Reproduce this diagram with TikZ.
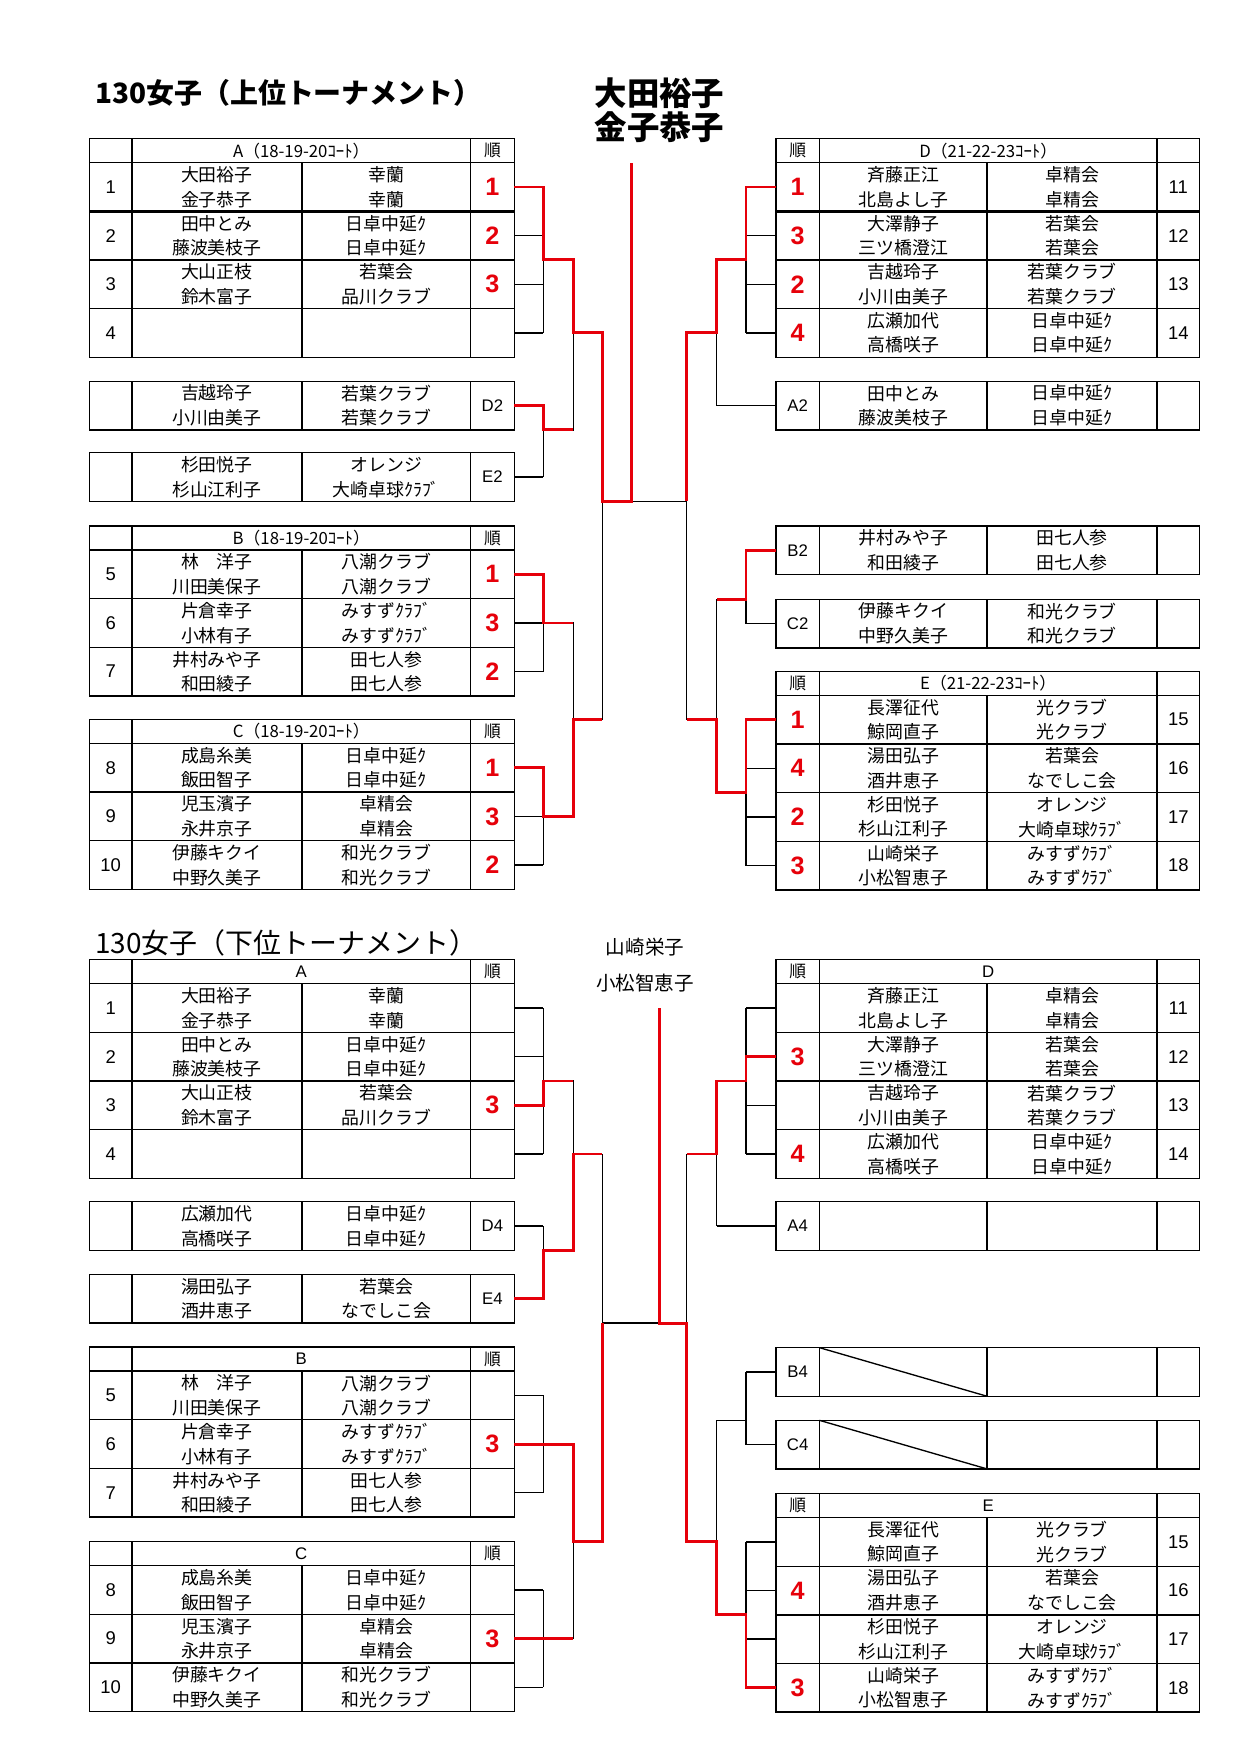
\documentclass[tikz,border=0pt]{standalone}
\usepackage{fontspec}
\newfontfamily\jp{Noto Sans CJK JP}
\newfontfamily\ar{Liberation Sans}
\definecolor{rk}{RGB}{230,0,10}
\tikzset{
  tbl/.style={line width=1.2pt, draw=black},
  br/.style={line width=1.2pt, draw=black},
  rd/.style={line width=2.6pt, draw=rk, line join=miter},
  txt/.style={font=\jp\fontsize{16}{18}\selectfont, inner sep=0pt},
  num/.style={font=\ar\fontsize{16.5}{18}\selectfont, inner sep=0pt},
  hdr/.style={font=\jp\fontsize{15}{16}\selectfont, inner sep=0pt},
}
\newcommand{\RK}[1]{\textcolor{rk}{\ar\bfseries\fontsize{22.5}{24}\selectfont #1}}
\newcommand{\LB}[1]{{\ar\fontsize{15}{16}\selectfont #1}}
\newcommand{\LRow}[8]{%
  \draw[tbl] (80,#2) rectangle (460,#2+43.5);
  \draw[tbl] (118,#2) -- (118,#2+43.5) (270,#2) -- (270,#2+43.5) (421,#2) -- (421,#2+43.5);
  \node[num] (#1-no) at (99,#2+21.75) {#3};
  \node[txt] (#1-n1) at (194,#2+10.75) {#4};
  \node[txt] (#1-n2) at (194,#2+32.75) {#5};
  \node[txt] (#1-c1) at (345.5,#2+10.75) {#6};
  \node[txt] (#1-c2) at (345.5,#2+32.75) {#7};
  \node[inner sep=0pt] (#1-rk) at (440.5,#2+21.75) {#8};
  \coordinate (#1-o) at (460,#2+21.75);
}
\newcommand{\RRow}[8]{%
  \draw[tbl] (694,#2) rectangle (1073,#2+43.5);
  \draw[tbl] (733,#2) -- (733,#2+43.5) (883,#2) -- (883,#2+43.5) (1035,#2) -- (1035,#2+43.5);
  \node[num] (#1-no) at (1054,#2+21.75) {#3};
  \node[txt] (#1-n1) at (808,#2+10.75) {#4};
  \node[txt] (#1-n2) at (808,#2+32.75) {#5};
  \node[txt] (#1-c1) at (959,#2+10.75) {#6};
  \node[txt] (#1-c2) at (959,#2+32.75) {#7};
  \node[inner sep=0pt] (#1-rk) at (713.5,#2+21.75) {#8};
  \coordinate (#1-o) at (694,#2+21.75);
}
\newcommand{\LHead}[3]{%
  \draw[tbl] (80,#2) rectangle (460,#2+21.5);
  \draw[tbl] (118,#2) -- (118,#2+21.5) (421,#2) -- (421,#2+21.5);
  \node[hdr] (#1-t) at (269.5,#2+10.75) {#3};
  \node[hdr] (#1-j) at (440.5,#2+10.75) {順};
}
\newcommand{\RHead}[3]{%
  \draw[tbl] (694,#2) rectangle (1073,#2+21.5);
  \draw[tbl] (733,#2) -- (733,#2+21.5) (1035,#2) -- (1035,#2+21.5);
  \node[hdr] (#1-t) at (884,#2+10.75) {#3};
  \node[hdr] (#1-j) at (713.5,#2+10.75) {順};
}
\begin{document}
\begin{tikzpicture}[x=1pt,y=-1pt]
\useasboundingbox (0,0) rectangle (1109,1569);
\fill[white] (0,0) rectangle (1109,1569);
\coordinate (L1) at (486,0);
\coordinate (R1) at (667.3,0);
\coordinate (R2) at (641,0);

% titles
\node[font=\jp\bfseries\fontsize{25}{28}\selectfont, anchor=west, inner sep=0pt] (t1) at (85,83.5) {130女子（上位トーナメント）};
\node[font=\jp\fontsize{25}{28}\selectfont, anchor=west, inner sep=0pt] (t2) at (85,843) {130女子（下位トーナメント）};
\node[font=\jp\bfseries\fontsize{29}{30}\selectfont, inner sep=0pt] (w1) at (590,83.5) {大田裕子};
\node[font=\jp\bfseries\fontsize{29}{30}\selectfont, inner sep=0pt] (w2) at (590,114) {金子恭子};
\node[font=\jp\fontsize{17.5}{20}\selectfont, inner sep=0pt] (w3) at (577,847) {山崎栄子};
\node[font=\jp\fontsize{17.5}{20}\selectfont, inner sep=0pt] (w4) at (577,879.5) {小松智恵子};

% ---------- upper left
\LHead{uhA}{124}{A（18-19-20ｺｰﾄ）}
\LRow{ua1}{145.5}{1}{大田裕子}{金子恭子}{幸蘭}{幸蘭}{\RK{1}}
\LRow{ua2}{189}{2}{田中とみ}{藤波美枝子}{日卓中延ｸ}{日卓中延ｸ}{\RK{2}}
\LRow{ua3}{232.5}{3}{大山正枝}{鈴木富子}{若葉会}{品川クラブ}{\RK{3}}
\LRow{ua4}{276}{4}{}{}{}{}{}
\draw[line width=2.4pt] (80,189) -- (460,189);
\LRow{ud2}{341}{}{吉越玲子}{小川由美子}{若葉クラブ}{若葉クラブ}{\LB{D2}}
\LRow{ue2}{405}{}{杉田悦子}{杉山江利子}{オレンジ}{大崎卓球ｸﾗﾌﾞ}{\LB{E2}}
\LHead{uhB}{470.5}{B（18-19-20ｺｰﾄ）}
\LRow{ub5}{492}{5}{林　洋子}{川田美保子}{八潮クラブ}{八潮クラブ}{\RK{1}}
\LRow{ub6}{535.5}{6}{片倉幸子}{小林有子}{みすずｸﾗﾌﾞ}{みすずｸﾗﾌﾞ}{\RK{3}}
\LRow{ub7}{579}{7}{井村みや子}{和田綾子}{田七人参}{田七人参}{\RK{2}}
\LHead{uhC}{643.5}{C（18-19-20ｺｰﾄ）}
\LRow{uc8}{665}{8}{成島糸美}{飯田智子}{日卓中延ｸ}{日卓中延ｸ}{\RK{1}}
\LRow{uc9}{708.5}{9}{児玉濱子}{永井京子}{卓精会}{卓精会}{\RK{3}}
\LRow{uc10}{752}{10}{伊藤キクイ}{中野久美子}{和光クラブ}{和光クラブ}{\RK{2}}

% ---------- upper right
\RHead{uhD}{124}{D（21-22-23ｺｰﾄ）}
\RRow{ud11}{145.5}{11}{斉藤正江}{北島よし子}{卓精会}{卓精会}{\RK{1}}
\RRow{ud12}{189}{12}{大澤静子}{三ツ橋澄江}{若葉会}{若葉会}{\RK{3}}
\RRow{ud13}{232.5}{13}{吉越玲子}{小川由美子}{若葉クラブ}{若葉クラブ}{\RK{2}}
\RRow{ud14}{276}{14}{広瀬加代}{高橋咲子}{日卓中延ｸ}{日卓中延ｸ}{\RK{4}}
\draw[line width=2.4pt] (694,189) -- (1073,189);
\RRow{ra2}{341}{}{田中とみ}{藤波美枝子}{日卓中延ｸ}{日卓中延ｸ}{\LB{A2}}
\RRow{rb2}{470.5}{}{井村みや子}{和田綾子}{田七人参}{田七人参}{\LB{B2}}
\RRow{rc2}{536}{}{伊藤キクイ}{中野久美子}{和光クラブ}{和光クラブ}{\LB{C2}}
\RHead{uhE}{600.5}{E（21-22-23ｺｰﾄ）}
\RRow{ue15}{622}{15}{長澤征代}{鯨岡直子}{光クラブ}{光クラブ}{\RK{1}}
\RRow{ue16}{665.5}{16}{湯田弘子}{酒井恵子}{若葉会}{なでしこ会}{\RK{4}}
\RRow{ue17}{709}{17}{杉田悦子}{杉山江利子}{オレンジ}{大崎卓球ｸﾗﾌﾞ}{\RK{2}}
\RRow{ue18}{752.5}{18}{山崎栄子}{小松智恵子}{みすずｸﾗﾌﾞ}{みすずｸﾗﾌﾞ}{\RK{3}}

% ---------- lower left
\LHead{lhA}{858.5}{\ar A}
\LRow{la1}{880}{1}{大田裕子}{金子恭子}{幸蘭}{幸蘭}{}
\LRow{la2}{923.5}{2}{田中とみ}{藤波美枝子}{日卓中延ｸ}{日卓中延ｸ}{}
\LRow{la3}{967}{3}{大山正枝}{鈴木富子}{若葉会}{品川クラブ}{\RK{3}}
\LRow{la4}{1010.5}{4}{}{}{}{}{}
\LRow{ld4}{1075}{}{広瀬加代}{高橋咲子}{日卓中延ｸ}{日卓中延ｸ}{\LB{D4}}
\LRow{le4}{1140}{}{湯田弘子}{酒井恵子}{若葉会}{なでしこ会}{\LB{E4}}
\LHead{lhB}{1205}{\ar B}
\LRow{lb5}{1226.5}{5}{林　洋子}{川田美保子}{八潮クラブ}{八潮クラブ}{}
\LRow{lb6}{1270}{6}{片倉幸子}{小林有子}{みすずｸﾗﾌﾞ}{みすずｸﾗﾌﾞ}{\RK{3}}
\LRow{lb7}{1313.5}{7}{井村みや子}{和田綾子}{田七人参}{田七人参}{}
\LHead{lhC}{1379}{\ar C}
\LRow{lc8}{1400.5}{8}{成島糸美}{飯田智子}{日卓中延ｸ}{日卓中延ｸ}{}
\LRow{lc9}{1444}{9}{児玉濱子}{永井京子}{卓精会}{卓精会}{\RK{3}}
\LRow{lc10}{1487.5}{10}{伊藤キクイ}{中野久美子}{和光クラブ}{和光クラブ}{}

% ---------- lower right
\RHead{lhD}{858.5}{\ar D}
\RRow{ld11}{880}{11}{斉藤正江}{北島よし子}{卓精会}{卓精会}{}
\RRow{ld12}{923.5}{12}{大澤静子}{三ツ橋澄江}{若葉会}{若葉会}{\RK{3}}
\RRow{ld13}{967}{13}{吉越玲子}{小川由美子}{若葉クラブ}{若葉クラブ}{}
\RRow{ld14}{1010.5}{14}{広瀬加代}{高橋咲子}{日卓中延ｸ}{日卓中延ｸ}{\RK{4}}
\RRow{ra4}{1075}{}{}{}{}{}{\LB{A4}}
\RRow{rb4}{1205.5}{}{}{}{}{}{\LB{B4}}
\RRow{rc4}{1270.5}{}{}{}{}{}{\LB{C4}}
\draw[tbl] (733,1205.5) -- (883,1249);
\draw[tbl] (733,1270.5) -- (883,1314);
\RHead{lhE}{1336}{\ar E}
\RRow{le15}{1357.5}{15}{長澤征代}{鯨岡直子}{光クラブ}{光クラブ}{}
\RRow{le16}{1401}{16}{湯田弘子}{酒井恵子}{若葉会}{なでしこ会}{\RK{4}}
\RRow{le17}{1444.5}{17}{杉田悦子}{杉山江利子}{オレンジ}{大崎卓球ｸﾗﾌﾞ}{}
\RRow{le18}{1488}{18}{山崎栄子}{小松智恵子}{みすずｸﾗﾌﾞ}{みすずｸﾗﾌﾞ}{\RK{3}}

% ---------- black bracket lines
\foreach \c in {ua1,ua2,ua3,ua4,ud2,ue2,ub5,ub6,ub7,uc8,uc9,uc10,la1,la2,la3,la4,ld4,le4,lb5,lb6,lb7,lc8,lc9,lc10} {\draw[br] (\c-o) -- (L1|-\c-o);}
\foreach \c in {ud11,ud12,ud13,ud14,rb2,rc2,ue15,ue16,ue17,ue18,ld11,ld12,ld13,ld14,rb4,rc4,le15,le16,le17,le18} {\draw[br] (\c-o) -- (R1|-\c-o);}
\draw[br] (ra2-o) -- (R2|-ra2-o);
\draw[br] (ra4-o) -- (R2|-ra4-o);
\foreach \a/\b in {ua1/ua4,ud2/ue2,ub5/ub7,uc8/uc10,la1/la4,ld4/le4,lb5/lb7,lc8/lc10} {\draw[br] (L1|-\a-o) -- (L1|-\b-o);}
\foreach \a/\b in {ud11/ud14,rb2/rc2,ue15/ue18,ld11/ld14,rb4/rc4,le15/le18} {\draw[br] (R1|-\a-o) -- (R1|-\b-o);}
% upper left
\draw[br] (486,232.5) -- (512.8,232.5) -- (512.8,384.5) -- (486,384.5);
\draw[br] (512.8,297.75) -- (538.8,297.75);
\draw[br] (486,557.25) -- (512.8,557.25) -- (512.8,730.25) -- (486,730.25);
\draw[br] (512.8,643.75) -- (538.8,643.75);
\draw[br] (538.8,297.75) -- (538.8,643.75);
\draw[br] (538.8,448.5) -- (614.2,448.5);
% upper right
\draw[br] (667.3,232.5) -- (641,232.5) -- (641,362.75);
\draw[br] (641,297.75) -- (614.2,297.75);
\draw[br] (667.3,536) -- (641,536) -- (641,709) -- (667.3,709);
\draw[br] (641,643.75) -- (614.2,643.75);
\draw[br] (614.2,297.75) -- (614.2,643.75);
% lower left
\draw[br] (486,967) -- (512.8,967) -- (512.8,1118.5) -- (486,1118.5);
\draw[br] (512.8,1032.25) -- (538.8,1032.25);
\draw[br] (486,1291.75) -- (512.8,1291.75) -- (512.8,1465.75) -- (486,1465.75);
\draw[br] (512.8,1379) -- (538.8,1379);
\draw[br] (538.8,1032.25) -- (538.8,1379);
\draw[br] (538.8,1183.5) -- (614.2,1183.5);
% lower right
\draw[br] (667.3,967) -- (641,967) -- (641,1096.75);
\draw[br] (641,1032.25) -- (614.2,1032.25);
\draw[br] (667.3,1270.5) -- (641,1270.5) -- (641,1444.5) -- (667.3,1444.5);
\draw[br] (641,1379.25) -- (614.2,1379.25);
\draw[br] (614.2,1032.25) -- (614.2,1379.25);

% ---------- red winner paths
\draw[rd] (ua1-o) -- (486,167.25) -- (486,232.5) -- (512.8,232.5) -- (512.8,297.75) -- (538.8,297.75) -- (538.8,448.5) -- (565,448.5) -- (565,146);
\draw[rd] (ud2-o) -- (486,362.75) -- (486,384.5) -- (512.8,384.5);
\draw[rd] (ub5-o) -- (486,513.75) -- (486,557.25) -- (512.8,557.25);
\draw[rd] (uc8-o) -- (486,686.75) -- (486,730.25) -- (512.8,730.25) -- (512.8,643.75) -- (538.8,643.75);
\draw[rd] (ud11-o) -- (667.3,167.25) -- (667.3,232.5) -- (641,232.5) -- (641,297.75) -- (614.2,297.75) -- (614.2,448.5);
\draw[rd] (rb2-o) -- (667.3,492.25) -- (667.3,536) -- (641,536);
\draw[rd] (ue15-o) -- (667.3,643.75) -- (667.3,709) -- (641,709) -- (641,643.75) -- (614.2,643.75);
\draw[rd] (la3-o) -- (486,988.75) -- (486,967) -- (512.8,967);
\draw[rd] (le4-o) -- (486,1161.75) -- (486,1118.5) -- (512.8,1118.5) -- (512.8,1032.25) -- (538.8,1032.25);
\draw[rd] (lb6-o) -- (512.8,1291.75) -- (512.8,1379) -- (538.8,1379) -- (538.8,1183.5);
\draw[rd] (lc9-o) -- (512.8,1465.75);
\draw[rd] (ld12-o) -- (667.3,945.25) -- (667.3,967) -- (641,967) -- (641,1032.25) -- (614.2,1032.25);
\draw[rd] (le18-o) -- (667.3,1509.75) -- (667.3,1444.5) -- (641,1444.5) -- (641,1379.25) -- (614.2,1379.25) -- (614.2,1183.5) -- (590.3,1183.5) -- (590.3,902);
\end{tikzpicture}
\end{document}
